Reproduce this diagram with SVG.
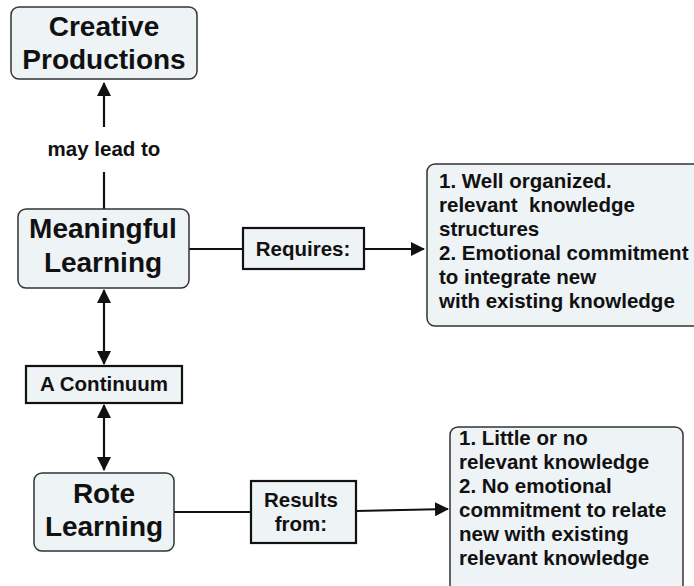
<svg xmlns="http://www.w3.org/2000/svg" width="694" height="586" viewBox="0 0 694 586">
<style>
.rbox{fill:#eef3f6;stroke:#333;stroke-width:1.5}
.sbox{fill:#eef3f6;stroke:#111;stroke-width:2.2}
.big{font-family:"Liberation Sans",Arial,sans-serif;font-weight:bold;font-size:28px;fill:#111;text-anchor:middle}
.lbl{font-family:"Liberation Sans",Arial,sans-serif;font-weight:bold;font-size:20.5px;fill:#111;text-anchor:middle}
.txt{font-family:"Liberation Sans",Arial,sans-serif;font-weight:bold;font-size:20.5px;fill:#111}
.ln{stroke:#111;stroke-width:2.2;fill:none}
</style>
<defs>
<marker id="ah" markerWidth="8" markerHeight="8" refX="7" refY="4" orient="auto-start-reverse" markerUnits="userSpaceOnUse" viewBox="0 0 8 8">
<path d="M0,0 L8,4 L0,8 z" fill="#111"/>
</marker>
<marker id="ahL" markerWidth="14" markerHeight="14" refX="13" refY="7" orient="auto-start-reverse" markerUnits="userSpaceOnUse" viewBox="0 0 14 14">
<path d="M0,0 L14,7 L0,14 z" fill="#111"/>
</marker>
</defs>
<g id="connectors">
<line class="ln" x1="104" y1="127" x2="104" y2="83" marker-end="url(#ahL)"/>
<line class="ln" x1="104" y1="172" x2="104" y2="209"/>
<line class="ln" x1="189" y1="249" x2="243" y2="249"/>
<line class="ln" x1="364" y1="249" x2="424" y2="249" marker-end="url(#ahL)"/>
<line class="ln" x1="104" y1="290" x2="104" y2="364" marker-start="url(#ahL)" marker-end="url(#ahL)"/>
<line class="ln" x1="104" y1="405" x2="104" y2="470" marker-start="url(#ahL)" marker-end="url(#ahL)"/>
<line class="ln" x1="174" y1="512" x2="251" y2="512"/>
<line class="ln" x1="356" y1="511" x2="448" y2="509" marker-end="url(#ahL)"/>
</g>
<g id="creative">
<rect class="rbox" x="11" y="7" width="186" height="72" rx="8"/>
<text class="big" x="104" y="36">Creative</text>
<text class="big" x="104" y="69">Productions</text>
</g>
<g id="mayleadto">
<text class="lbl" x="104" y="156">may lead to</text>
</g>
<g id="meaningful">
<rect class="rbox" x="18" y="209" width="171" height="79" rx="8"/>
<text class="big" x="103" y="238">Meaningful</text>
<text class="big" x="103" y="272">Learning</text>
</g>
<g id="requires">
<rect class="sbox" x="243" y="228" width="121" height="41" fill="#f7fafb"/>
<text class="lbl" x="303" y="256">Requires:</text>
</g>
<g id="req-list">
<rect class="rbox" x="427" y="164" width="280" height="162" rx="8"/>
<text class="txt" x="439" y="188">1. Well organized.</text>
<text class="txt" x="439" y="212" xml:space="preserve">relevant  knowledge</text>
<text class="txt" x="439" y="236">structures</text>
<text class="txt" x="439" y="260">2. Emotional commitment</text>
<text class="txt" x="439" y="284">to integrate new</text>
<text class="txt" x="439" y="308">with existing knowledge</text>
</g>
<g id="continuum">
<rect class="sbox" x="26" y="366" width="156" height="37"/>
<text class="lbl" x="104" y="391">A Continuum</text>
</g>
<g id="rote">
<rect class="rbox" x="34" y="473" width="140" height="78" rx="8"/>
<text class="big" x="104" y="503">Rote</text>
<text class="big" x="104" y="536">Learning</text>
</g>
<g id="results">
<rect class="sbox" x="251" y="481" width="105" height="62"/>
<text class="lbl" x="301" y="507">Results</text>
<text class="lbl" x="301" y="531">from:</text>
</g>
<g id="res-list">
<rect class="rbox" x="450" y="427" width="233" height="170" rx="8"/>
<text class="txt" x="459" y="445">1. Little or no</text>
<text class="txt" x="459" y="469">relevant knowledge</text>
<text class="txt" x="459" y="493">2. No emotional</text>
<text class="txt" x="459" y="517">commitment to relate</text>
<text class="txt" x="459" y="541">new with existing</text>
<text class="txt" x="459" y="565">relevant knowledge</text>
</g>
</svg>
